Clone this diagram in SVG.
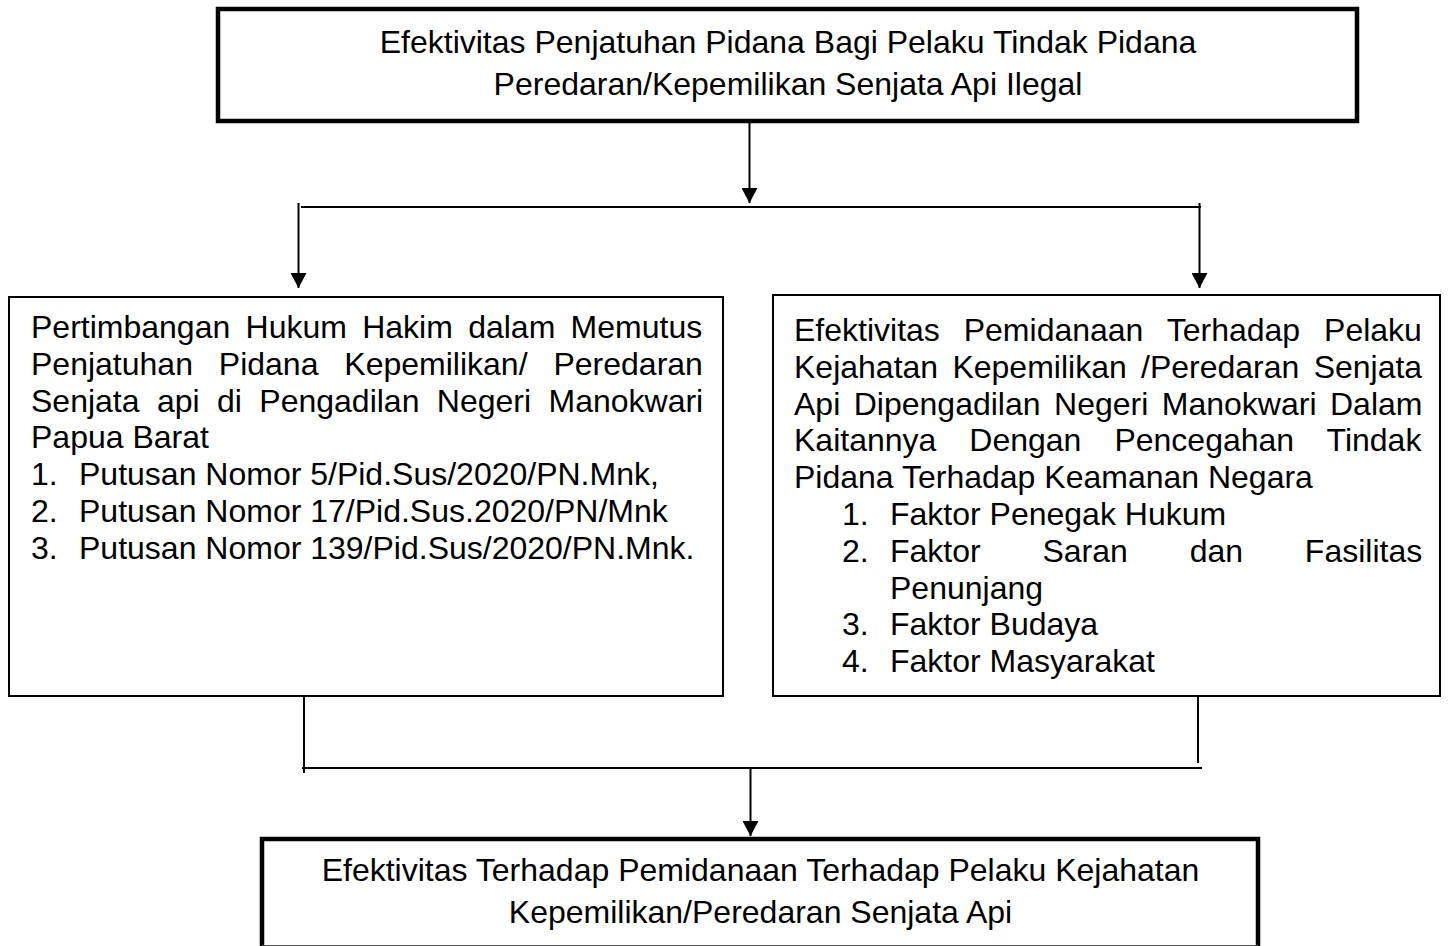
<svg xmlns="http://www.w3.org/2000/svg" width="1448" height="946" viewBox="0 0 1448 946">
<style>
text{font-family:"Liberation Sans",Arial,sans-serif;font-size:32px;fill:#000}
.c{text-anchor:middle}
.thick{fill:#fff;stroke:#000;stroke-width:4.5}
.thin{fill:#fff;stroke:#000;stroke-width:2}
.ln{stroke:#000;stroke-width:2;fill:none}
</style>
<defs>
<marker id="ah" viewBox="0 0 15 16" refX="15" refY="8" markerWidth="15" markerHeight="16" markerUnits="userSpaceOnUse" orient="auto">
<path d="M0,0 L15,8 L0,16 z" fill="#000"/>
</marker>
</defs>
<rect width="1448" height="946" fill="#fff"/>
<g id="connectors">
<line class="ln" x1="749.5" y1="123" x2="749.5" y2="203" marker-end="url(#ah)"/>
<line class="ln" x1="301" y1="207" x2="1201" y2="207"/>
<line class="ln" x1="298.5" y1="203" x2="298.5" y2="288" marker-end="url(#ah)"/>
<line class="ln" x1="1199.5" y1="203" x2="1199.5" y2="288" marker-end="url(#ah)"/>
<line class="ln" x1="304" y1="697" x2="304" y2="773"/>
<line class="ln" x1="1198" y1="697" x2="1198" y2="763"/>
<line class="ln" x1="302" y1="768" x2="1202" y2="768"/>
<line class="ln" x1="750.5" y1="768" x2="750.5" y2="836" marker-end="url(#ah)"/>
</g>
<g id="top">
<rect class="thick" x="218" y="9" width="1139" height="112"/>
<text class="c" x="788" y="53">Efektivitas Penjatuhan Pidana Bagi Pelaku Tindak Pidana</text>
<text class="c" x="788" y="95">Peredaran/Kepemilikan Senjata Api Ilegal</text>
</g>
<g id="left">
<rect class="thin" x="9" y="297" width="714" height="399"/>
<text x="31" y="338" style="word-spacing:6.4px">Pertimbangan Hukum Hakim dalam Memutus</text>
<text x="31" y="374.8" style="word-spacing:17px">Penjatuhan Pidana Kepemilikan/ Peredaran</text>
<text x="31" y="411.6" style="word-spacing:8.5px">Senjata api di Pengadilan Negeri Manokwari</text>
<text x="31" y="448.4">Papua Barat</text>
<text x="31" y="485.2">1.</text><text x="79" y="485.2">Putusan Nomor 5/Pid.Sus/2020/PN.Mnk,</text>
<text x="31" y="522">2.</text><text x="79" y="522">Putusan Nomor 17/Pid.Sus.2020/PN/Mnk</text>
<text x="31" y="558.8">3.</text><text x="79" y="558.8">Putusan Nomor 139/Pid.Sus/2020/PN.Mnk.</text>
</g>
<g id="right">
<rect class="thin" x="773" y="295" width="667" height="401"/>
<text x="794" y="341" style="word-spacing:15.0px">Efektivitas Pemidanaan Terhadap Pelaku</text>
<text x="794" y="377.8" style="word-spacing:5.4px">Kejahatan Kepemilikan /Peredaran Senjata</text>
<text x="794" y="414.6" style="word-spacing:4.6px">Api Dipengadilan Negeri Manokwari Dalam</text>
<text x="794" y="451.4" style="word-spacing:24.1px">Kaitannya Dengan Pencegahan Tindak</text>
<text x="794" y="488.2">Pidana Terhadap Keamanan Negara</text>
<text x="842" y="525">1.</text><text x="890" y="525">Faktor Penegak Hukum</text>
<text x="842" y="561.8">2.</text><text x="890" y="561.8" style="word-spacing:52.9px">Faktor Saran dan Fasilitas</text>
<text x="890" y="598.6">Penunjang</text>
<text x="842" y="635.4">3.</text><text x="890" y="635.4">Faktor Budaya</text>
<text x="842" y="672.2">4.</text><text x="890" y="672.2">Faktor Masyarakat</text>
</g>
<g id="bottom">
<rect x="262" y="839" width="996" height="107" fill="#fff"/>
<path d="M262,946 V839 H1258 V946" fill="none" stroke="#000" stroke-width="4.5"/>
<line x1="262" y1="945.5" x2="1258" y2="945.5" stroke="#555" stroke-width="1"/>
<text class="c" x="760.5" y="881">Efektivitas Terhadap Pemidanaan Terhadap Pelaku Kejahatan</text>
<text class="c" x="760.5" y="923">Kepemilikan/Peredaran Senjata Api</text>
</g>
</svg>
